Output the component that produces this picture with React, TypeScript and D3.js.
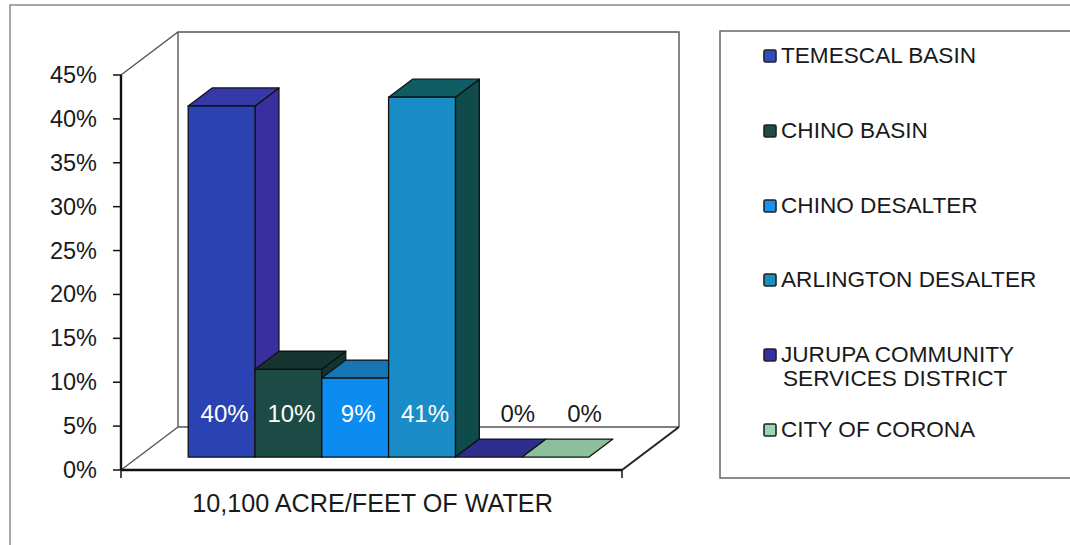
import React from "react";
import * as d3 from "d3";

// Water supply share by source (fraction of 10,100 acre-feet)
const categories: string[] = [
  "TEMESCAL BASIN",
  "CHINO BASIN",
  "CHINO DESALTER",
  "ARLINGTON DESALTER",
  "JURUPA COMMUNITY SERVICES DISTRICT",
  "CITY OF CORONA",
];
const shares: number[] = [0.4, 0.1, 0.09, 0.41, 0, 0];
const legendLines: string[][] = [
  ["TEMESCAL BASIN"],
  ["CHINO BASIN"],
  ["CHINO DESALTER"],
  ["ARLINGTON DESALTER"],
  ["JURUPA COMMUNITY", "SERVICES DISTRICT"],
  ["CITY OF CORONA"],
];
const yTicks: number[] = [0, 0.05, 0.1, 0.15, 0.2, 0.25, 0.3, 0.35, 0.4, 0.45];
const axisTitle = "10,100 ACRE/FEET OF WATER";

// face colours: front, top, right side, legend swatch
const faceColors = [
  { front: "#2b43b2", top: "#3639a8", side: "#3a2f9e", swatch: "#2f4cc0" },
  { front: "#1c4a44", top: "#163531", side: "#123430", swatch: "#1f4d46" },
  { front: "#0c8cf0", top: "#1676b4", side: "#125e90", swatch: "#1a90f0" },
  { front: "#1a8dc6", top: "#0f5d62", side: "#0e4b4a", swatch: "#1a8fc2" },
  { front: "#2e2e8c", top: "#2e2e8c", side: "#25257a", swatch: "#3131a4" },
  { front: "#8cc09c", top: "#8cc09c", side: "#7aa888", swatch: "#9ad6b2" },
];

const FONT = "'Liberation Sans', Arial, Helvetica, sans-serif";
const INK = "#1a1a1a";

export default function App() {
  const W = 1070;
  const H = 545;

  // front plane of the plot
  const x0 = 121;
  const x1 = 622;
  const yScale = d3.scaleLinear().domain([0, 0.45]).range([470, 75]);
  const fmt = d3.format(".0%");

  // depth vector of the 3D box
  const depth = { dx: 57, dy: -43 };
  const f0 = 0.3; // bar front depth fraction
  const f1 = 0.72; // bar back depth fraction

  const xBand = d3
    .scaleBand<string>()
    .domain(categories)
    .range([x0, x1])
    .paddingInner(0)
    .paddingOuter(0.75);

  const frontShift = { dx: depth.dx * f0, dy: depth.dy * f0 };
  const bd = { dx: depth.dx * (f1 - f0), dy: depth.dy * (f1 - f0) };

  const pts = (p: [number, number][]) => p.map((q) => q.join(",")).join(" ");

  const yBase = yScale(0) + frontShift.dy;

  const bars = categories.map((c, i) => {
    const v = shares[i];
    const xl = (xBand(c) as number) + frontShift.dx;
    const xr = xl + xBand.bandwidth();
    const yt = yScale(v) + frontShift.dy;
    const col = faceColors[i];
    const top = pts([
      [xl, yt],
      [xr, yt],
      [xr + bd.dx, yt + bd.dy],
      [xl + bd.dx, yt + bd.dy],
    ]);
    const side = pts([
      [xr, yt],
      [xr + bd.dx, yt + bd.dy],
      [xr + bd.dx, yBase + bd.dy],
      [xr, yBase],
    ]);
    const cx = (xl + xr) / 2;
    const labelX = v > 0 ? cx + 3 : cx + 29;
    return (
      <g key={c}>
        {v > 0 && (
          <polygon points={side} fill={col.side} stroke="#111" strokeWidth={1.3} strokeLinejoin="round" />
        )}
        <polygon points={top} fill={col.top} stroke="#111" strokeWidth={1.3} strokeLinejoin="round" />
        {v > 0 && (
          <rect x={xl} y={yt} width={xr - xl} height={yBase - yt} fill={col.front} stroke="#111" strokeWidth={1.3} />
        )}
        <text
          x={labelX}
          y={422}
          textAnchor="middle"
          fontFamily={FONT}
          fontSize={24}
          fill={v > 0 ? "#ffffff" : INK}
        >
          {fmt(v)}
        </text>
      </g>
    );
  });

  const yb = yScale(0);
  const yt45 = yScale(0.45);
  const bx0 = x0 + depth.dx;
  const bx1 = x1 + depth.dx;

  const legendX = 720;
  const legendBaselines = [63, 138, 213, 287, 362, 437];

  return (
    <svg width={W} height={H} style={{ position: "absolute", left: 0, top: 0, background: "#fff" }}>
      {/* outer chart frame */}
      <rect x={10} y={5} width={1100} height={600} fill="#fff" stroke="#8a8a8a" strokeWidth={1.5} />

      {/* walls and floor */}
      <g fill="none" stroke="#555" strokeWidth={1.4}>
        <polyline points={pts([[x0, yt45], [bx0, yt45 + depth.dy], [bx1, yt45 + depth.dy], [bx1, yb + depth.dy]])} />
        <line x1={bx0} y1={yt45 + depth.dy} x2={bx0} y2={yb + depth.dy} />
        <line x1={bx0} y1={yb + depth.dy} x2={bx1} y2={yb + depth.dy} />
        <line x1={x0} y1={yb} x2={bx0} y2={yb + depth.dy} />
      </g>
      <line x1={x1} y1={yb} x2={bx1} y2={yb + depth.dy} stroke="#222" strokeWidth={2} />

      {/* bars */}
      {bars}

      {/* value axis */}
      <line x1={x0} y1={yt45} x2={x0} y2={yb} stroke="#111" strokeWidth={2.4} />
      {yTicks.map((t) => (
        <g key={t}>
          <line x1={x0 - 8} y1={yScale(t)} x2={x0} y2={yScale(t)} stroke="#111" strokeWidth={1.5} />
          <text x={97} y={yScale(t) + 8} textAnchor="end" fontFamily={FONT} fontSize={23.5} fill={INK}>
            {fmt(t)}
          </text>
        </g>
      ))}

      {/* category axis */}
      <line x1={x0} y1={yb} x2={x1} y2={yb} stroke="#111" strokeWidth={2.6} />
      <line x1={x0} y1={yb} x2={x0} y2={yb + 8} stroke="#111" strokeWidth={1.5} />
      <line x1={x1} y1={yb} x2={x1} y2={yb + 8} stroke="#111" strokeWidth={1.5} />
      <text x={(x0 + x1) / 2 + 1} y={512} textAnchor="middle" fontFamily={FONT} fontSize={25.2} fill={INK}>
        {axisTitle}
      </text>

      {/* legend */}
      <rect x={legendX} y={31} width={400} height={447} fill="#fff" stroke="#666" strokeWidth={1.5} />
      {legendLines.map((lines, i) => (
        <g key={categories[i]}>
          <rect
            x={764}
            y={legendBaselines[i] - 13}
            width={12}
            height={12}
            rx={1.5}
            fill={faceColors[i].swatch}
            stroke="#222"
            strokeWidth={1.6}
          />
          {lines.map((ln, j) => (
            <text
              key={ln}
              x={j === 0 ? 781 : 783}
              y={legendBaselines[i] + j * 24}
              fontFamily={FONT}
              fontSize={22.6}
              fill={INK}
            >
              {ln}
            </text>
          ))}
        </g>
      ))}
    </svg>
  );
}
